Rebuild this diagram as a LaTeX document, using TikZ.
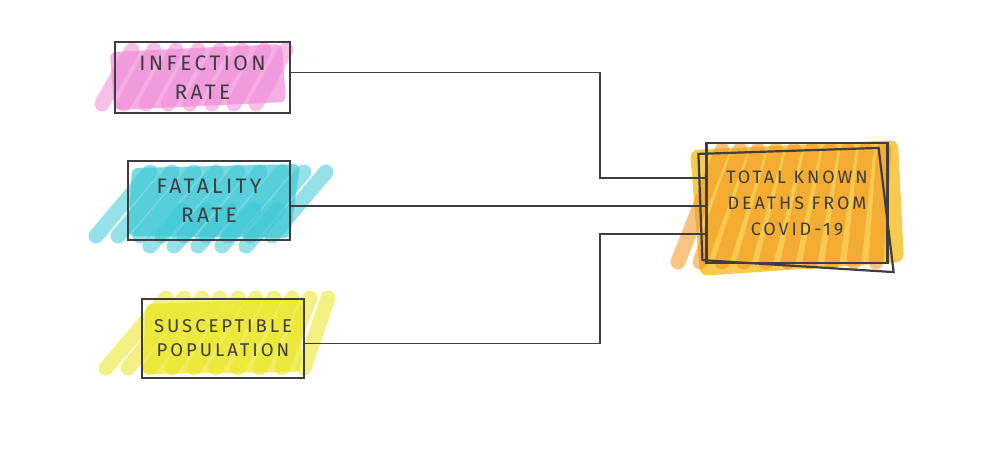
\documentclass[tikz,border=0pt]{standalone}
\usepackage{fontspec}
\setmainfont{Fira Sans}
\newfontfamily\skfont[LetterSpace=16]{Fira Sans}
\usetikzlibrary{positioning,calc}
\definecolor{skink}{RGB}{62,62,64}
\definecolor{hlpink}{RGB}{240,140,215}
\definecolor{hlcyan}{RGB}{60,200,212}
\definecolor{hlyellow}{RGB}{234,230,30}
\definecolor{hlorange}{RGB}{243,148,28}
\definecolor{hlgold}{RGB}{246,190,36}
\tikzset{
  sbox/.style={draw=skink, line width=2.2pt, align=center, inner sep=0pt, text=skink},
  hl/.style={line width=15pt, line cap=round, opacity=0.55},
  wire/.style={draw=skink, line width=1.9pt},
  bigtxt/.style={font=\skfont\fontsize{21}{29}\selectfont},
  midtxt/.style={font=\skfont\fontsize{18.5}{24}\selectfont},
  smalltxt/.style={font=\skfont\fontsize{18}{26}\selectfont}
}

\begin{document}
\begin{tikzpicture}[x=1pt,y=-1pt]
  \useasboundingbox (0,0) rectangle (984,448);
  % marker blobs
  \fill[hlpink, opacity=0.7, rounded corners=6pt] (110,52) -- (282,44) -- (286,102) -- (114,110) -- cycle;
  \foreach \a in {0,...,7}
    \draw[hl, hlpink] (102+\a*22,104) -- (132+\a*22,50);
  \fill[hlcyan, opacity=0.7, rounded corners=6pt] (132,168) -- (300,164) -- (290,238) -- (128,236) -- cycle;
  \foreach \a in {0,...,8}
    \draw[hl, hlcyan] (96+\a*22,236) -- (150+\a*22,172);
  \foreach \a in {0,...,4}
    \draw[hl, hlcyan] (150+\a*24,246) -- (182+\a*24,210);
  \fill[hlyellow, opacity=0.7, rounded corners=6pt] (146,304) -- (305,298) -- (300,372) -- (142,374) -- cycle;
  \foreach \a in {0,...,9}
    \draw[hl, hlyellow] (106+\a*22,368) -- (166+\a*18,298);
  \fill[hlgold, opacity=0.8, rounded corners=8pt] (690,150) -- (898,140) -- (904,262) -- (700,276) -- cycle;
  \foreach \a in {0,...,9}
    \draw[hl, hlorange] (678+\a*22,262) -- (722+\a*18,150);
  % boxes
  \node[sbox, bigtxt, minimum width=175pt, minimum height=71pt] (inf) at (202.5,77.5) {INFECTION\\RATE};
  \node[sbox, bigtxt, minimum width=162pt, minimum height=79pt] (fat) at (209,200.5) {FATALITY\\RATE};
  \node[sbox, midtxt, minimum width=162pt, minimum height=79pt] (sus) at (223,338.5) {SUSCEPTIBLE\\POPULATION};
  \node[sbox, smalltxt, minimum width=181pt, minimum height=120pt] (tot) at (797,203) {TOTAL KNOWN\\DEATHS FROM\\COVID-19};
  \draw[skink, line width=2.2pt] ($(tot.north west)+(-7,12)$) -- ($(tot.north east)+(-10,6)$)
    -- ($(tot.south east)+(5,8)$) -- ($(tot.south west)+(-3,-4)$) -- cycle;
  % connectors
  \draw[wire] ($(inf.east)+(0,-5)$) -| ($(tot.west)+(-105,-25)$) -- ($(tot.west)+(0,-25)$);
  \draw[wire] ($(fat.east |- tot.west)+(0,3)$) -- ($(tot.west)+(0,3)$);
  \draw[wire] ($(sus.east)+(0,5)$) -| ($(tot.west)+(-105,31)$) -- ($(tot.west)+(0,31)$);
\end{tikzpicture}
\end{document}
